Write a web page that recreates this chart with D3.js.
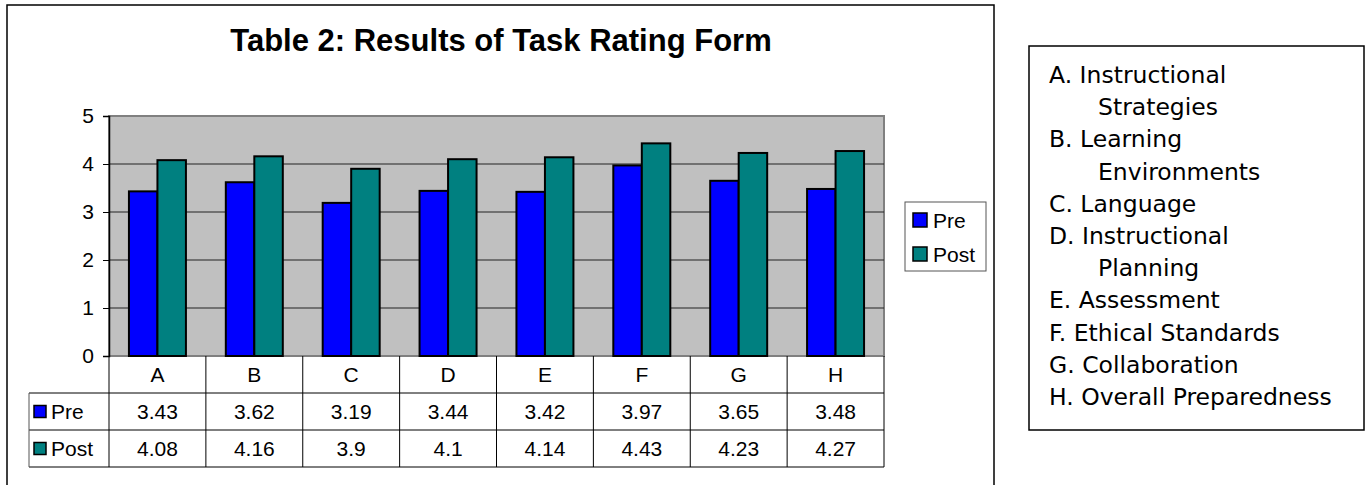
<!DOCTYPE html>
<html>
<head>
<meta charset="utf-8">
<script src="https://cdn.jsdelivr.net/npm/d3@7"></script>
<style>
  html, body { margin: 0; padding: 0; background: #fff; }
  svg { display: block; }
</style>
</head>
<body>
<svg id="chart" width="1366" height="485"></svg>
<script>
const categories = ["A", "B", "C", "D", "E", "F", "G", "H"];
const seriesNames = ["Pre", "Post"];
const preValues = [3.43, 3.62, 3.19, 3.44, 3.42, 3.97, 3.65, 3.48];
const postValues = [4.08, 4.16, 3.9, 4.1, 4.14, 4.43, 4.23, 4.27];
const yTicks = [0, 1, 2, 3, 4, 5];
const notes = [
    ["A. Instructional", "Strategies"],
    ["B. Learning", "Environments"],
    ["C. Language"],
    ["D. Instructional", "Planning"],
    ["E. Assessment"],
    ["F. Ethical Standards"],
    ["G. Collaboration"],
    ["H. Overall Preparedness"]
];

const colors = {Pre: "#0000ff", Post: "#008080"};
const values = {Pre: preValues, Post: postValues};
const font = "Arial, 'Liberation Sans', sans-serif";
const fs = 21;

const svg = d3.select("#chart");

// outer chart frame (runs off the bottom of the window)
svg.append("rect")
    .attr("x", 7).attr("y", 5)
    .attr("width", 987).attr("height", 520)
    .attr("fill", "#fff")
    .attr("stroke", "#000")
    .attr("stroke-width", 1.5);

svg.append("text")
    .attr("x", 501).attr("y", 51)
    .attr("text-anchor", "middle")
    .attr("font-family", font)
    .attr("font-weight", "bold")
    .attr("font-size", 31)
    .text("Table 2: Results of Task Rating Form");

const plot = {left: 109, right: 884, top: 116, bottom: 356};

const x = d3.scaleBand()
    .domain(categories)
    .range([plot.left, plot.right]);

const xs = d3.scaleBand()
    .domain(seriesNames)
    .range([0, x.bandwidth()])
    .paddingOuter(0.7);

const y = d3.scaleLinear()
    .domain([0, 5])
    .range([plot.bottom, plot.top]);

// plot background
svg.append("rect")
    .attr("x", plot.left).attr("y", plot.top)
    .attr("width", plot.right - plot.left)
    .attr("height", plot.bottom - plot.top)
    .attr("fill", "#c0c0c0")
    .attr("stroke", "#808080")
    .attr("stroke-width", 2);

// gridlines
svg.append("g")
    .selectAll("line")
    .data(yTicks.filter(t => t > 0 && t < 5))
    .join("line")
    .attr("x1", plot.left).attr("x2", plot.right)
    .attr("y1", d => y(d)).attr("y2", d => y(d))
    .attr("stroke", "#222")
    .attr("stroke-width", 1);

// bars
const groups = svg.append("g")
    .selectAll("g")
    .data(categories)
    .join("g")
    .attr("transform", d => `translate(${x(d)},0)`);

groups.selectAll("rect")
    .data((c, i) => seriesNames.map(s => ({s, v: values[s][i]})))
    .join("rect")
    .attr("x", d => xs(d.s))
    .attr("width", xs.bandwidth())
    .attr("y", d => y(d.v))
    .attr("height", d => y(0) - y(d.v))
    .attr("fill", d => colors[d.s])
    .attr("stroke", "#000")
    .attr("stroke-width", 2);

// y axis
const yAxis = d3.axisLeft(y)
    .tickValues(yTicks)
    .tickSize(6)
    .tickPadding(9)
    .tickFormat(d3.format("d"));

const gy = svg.append("g")
    .attr("transform", `translate(${plot.left},0)`)
    .call(yAxis);
gy.select(".domain").attr("stroke", "#000").attr("stroke-width", 1.5);
gy.selectAll(".tick line").attr("stroke", "#000");
gy.selectAll(".tick text")
    .attr("font-family", font)
    .attr("font-size", fs)
    .attr("fill", "#000");

// data table under the axis
const rowH = 37;
const tableTop = plot.bottom;
const tableLeft = 29;
const table = svg.append("g")
    .attr("font-family", font)
    .attr("font-size", fs);

// header row with category names
table.selectAll("text.cat")
    .data(categories)
    .join("text")
    .attr("class", "cat")
    .attr("x", d => x(d) + x.bandwidth() / 2)
    .attr("y", tableTop + rowH / 2)
    .attr("dy", "0.36em")
    .attr("text-anchor", "middle")
    .text(d => d);

// vertical lines
table.selectAll("line.v")
    .data(categories.map(c => x(c)).concat([plot.right]))
    .join("line")
    .attr("class", "v")
    .attr("x1", d => d).attr("x2", d => d)
    .attr("y1", tableTop).attr("y2", tableTop + rowH * 3)
    .attr("stroke", "#000");

// horizontal lines
table.selectAll("line.h")
    .data([1, 2, 3])
    .join("line")
    .attr("class", "h")
    .attr("x1", tableLeft).attr("x2", plot.right)
    .attr("y1", d => tableTop + rowH * d).attr("y2", d => tableTop + rowH * d)
    .attr("stroke", "#000");

table.append("line")
    .attr("x1", tableLeft).attr("x2", tableLeft)
    .attr("y1", tableTop + rowH).attr("y2", tableTop + rowH * 3)
    .attr("stroke", "#555");

seriesNames.forEach((s, si) => {
    const rowY = tableTop + rowH * (si + 1);
    table.append("rect")
        .attr("x", 34).attr("y", rowY + rowH / 2 - 6)
        .attr("width", 12).attr("height", 12)
        .attr("fill", colors[s])
        .attr("stroke", "#000")
        .attr("stroke-width", 1.5);
    table.append("text")
        .attr("x", 51).attr("y", rowY + rowH / 2)
        .attr("dy", "0.36em")
        .text(s);
    table.selectAll(null)
        .data(values[s])
        .join("text")
        .attr("x", (d, i) => x(categories[i]) + x.bandwidth() / 2)
        .attr("y", rowY + rowH / 2)
        .attr("dy", "0.36em")
        .attr("text-anchor", "middle")
        .text(d => d);
});

// legend
const legend = svg.append("g")
    .attr("font-family", font)
    .attr("font-size", fs);
legend.append("rect")
    .attr("x", 905).attr("y", 202)
    .attr("width", 81).attr("height", 69)
    .attr("fill", "#fff")
    .attr("stroke", "#555");
seriesNames.forEach((s, i) => {
    const cy = 220 + i * 34;
    legend.append("rect")
        .attr("x", 913).attr("y", cy - 7)
        .attr("width", 14).attr("height", 14)
        .attr("fill", colors[s])
        .attr("stroke", "#000")
        .attr("stroke-width", 1.5);
    legend.append("text")
        .attr("x", 933).attr("y", cy)
        .attr("dy", "0.36em")
        .text(s);
});

// category key box on the right
const key = svg.append("g")
    .attr("font-family", "'DejaVu Sans', Verdana, sans-serif")
    .attr("font-size", 23.5)
    .attr("fill", "#000");
key.append("rect")
    .attr("x", 1029).attr("y", 46)
    .attr("width", 335).attr("height", 384)
    .attr("fill", "#fff")
    .attr("stroke", "#000")
    .attr("stroke-width", 1.5);

let line = 0;
notes.forEach(n => {
    n.forEach((t, j) => {
        key.append("text")
            .attr("x", j === 0 ? 1049 : 1098)
            .attr("y", 83 + line * 32.2)
            .text(t);
        line++;
    });
});
</script>
</body>
</html>
